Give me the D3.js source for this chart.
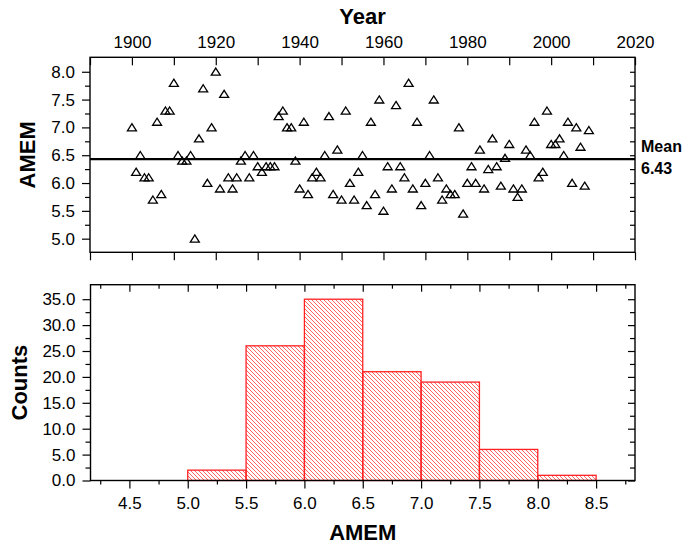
<!DOCTYPE html>
<html>
<head>
<meta charset="utf-8">
<script src="https://cdn.jsdelivr.net/npm/d3@7"></script>
<style>
body { margin: 0; background: #fff; }
svg text { font-family: "Liberation Sans", Arial, Helvetica, sans-serif; fill: #000; }
</style>
</head>
<body>
<div id="chart"></div>
<script>
// years 1900..2009, one AMEM value per year
var years = d3.range(1900, 2010);
var amem = [
    7.0, 6.2, 6.5, 6.1, 6.1, 5.7, 7.1, 5.8, 7.3, 7.3,
    7.8, 6.5, 6.4, 6.4, 6.5, 5.0, 6.8, 7.7, 6.0, 7.0,
    8.0, 5.9, 7.6, 6.1, 5.9, 6.1, 6.4, 6.5, 6.1, 6.5,
    6.3, 6.2, 6.3, 6.3, 6.3, 7.2, 7.3, 7.0, 7.0, 6.4,
    5.9, 7.1, 5.8, 6.1, 6.2, 6.1, 6.5, 7.2, 5.8, 6.6,
    5.7, 7.3, 6.0, 5.7, 6.2, 6.5, 5.6, 7.1, 5.8, 7.5,
    5.5, 6.3, 5.9, 7.4, 6.3, 6.1, 7.8, 5.9, 7.1, 5.6,
    6.0, 6.5, 7.5, 6.1, 5.7, 5.9, 5.8, 5.8, 7.0, 5.45,
    6.0, 6.3, 6.0, 6.6, 5.9, 6.25, 6.8, 6.3, 5.95, 6.45,
    6.7, 5.9, 5.75, 5.9, 6.6, 6.5, 7.1, 6.1, 6.2, 7.3,
    6.7, 6.7, 6.8, 6.5, 7.1, 6.0, 7.0, 6.65, 5.95, 6.95
];
var meanValue = 6.43;

// histogram
var binEdges = [5.0, 5.5, 6.0, 6.5, 7.0, 7.5, 8.0, 8.5];
var counts = [2, 26, 35, 21, 19, 6, 1];

var yearLabels = [1900, 1920, 1940, 1960, 1980, 2000, 2020];

var W = 684, H = 547;
var svg = d3.select("#chart").append("svg")
    .attr("width", W)
    .attr("height", H);

var defs = svg.append("defs");
defs.append("pattern")
    .attr("id", "hatch")
    .attr("patternUnits", "userSpaceOnUse")
    .attr("width", 4)
    .attr("height", 4)
    .append("path")
    .attr("d", "M0,0L4,4M3,-1L5,1M-1,3L1,5")
    .attr("stroke", "#f22")
    .attr("stroke-width", 0.7);

function styleAxis(g) {
    g.select(".domain").remove();
    g.selectAll(".tick line").attr("stroke", "#000").attr("stroke-width", 1.2);
    g.selectAll(".tick text").attr("font-size", 17);
}

// ---------- top panel ----------
var p1 = { left: 90, right: 635, top: 57.3, bottom: 252.3 };
var x1 = d3.scaleLinear().domain([1890, 2020]).range([p1.left, p1.right]);
var y1 = d3.scaleLinear().domain([4.755, 8.26]).range([p1.bottom, p1.top]);

var decades = d3.range(1890, 2021, 10);
var y1Major = d3.range(5.0, 8.01, 0.5);
var y1Minor = d3.range(5.25, 8.0, 0.5);

svg.append("g")
    .attr("transform", "translate(0," + p1.top + ")")
    .call(d3.axisTop(x1).tickValues(decades).tickSize(-8).tickPadding(9)
        .tickFormat(function (d) { return yearLabels.indexOf(d) >= 0 ? d : ""; }))
    .call(styleAxis);

svg.append("g")
    .attr("transform", "translate(0," + p1.bottom + ")")
    .call(d3.axisBottom(x1).tickValues(decades).tickSize(8).tickFormat(""))
    .call(styleAxis);

svg.append("g")
    .attr("transform", "translate(" + p1.left + ",0)")
    .call(d3.axisLeft(y1).tickValues(y1Major).tickSize(8).tickPadding(7).tickFormat(d3.format(".1f")))
    .call(styleAxis);
svg.append("g")
    .attr("transform", "translate(" + p1.left + ",0)")
    .call(d3.axisLeft(y1).tickValues(y1Minor).tickSize(5).tickFormat(""))
    .call(styleAxis);

svg.append("g")
    .attr("transform", "translate(" + p1.right + ",0)")
    .call(d3.axisRight(y1).tickValues(y1Major.concat(y1Minor)).tickSize(-5).tickFormat(""))
    .call(styleAxis);

svg.append("line")
    .attr("x1", p1.left).attr("x2", p1.right)
    .attr("y1", y1(meanValue)).attr("y2", y1(meanValue))
    .attr("stroke", "#000").attr("stroke-width", 2.2);

svg.append("g").selectAll("path")
    .data(amem)
    .join("path")
    .attr("transform", function (d, i) { return "translate(" + x1(years[i]) + "," + y1(d) + ")"; })
    .attr("d", "M0,-3.7L4.5,3.4L-4.5,3.4Z")
    .attr("fill", "none")
    .attr("stroke", "#000")
    .attr("stroke-width", 1.3);

svg.append("rect")
    .attr("x", p1.left).attr("y", p1.top)
    .attr("width", p1.right - p1.left).attr("height", p1.bottom - p1.top)
    .attr("fill", "none").attr("stroke", "#000").attr("stroke-width", 1.4);

svg.append("text")
    .attr("x", (p1.left + p1.right) / 2).attr("y", 24)
    .attr("text-anchor", "middle").attr("font-size", 22).attr("font-weight", "bold")
    .text("Year");

svg.append("text")
    .attr("transform", "translate(35," + (p1.top + p1.bottom) / 2 + ") rotate(-90)")
    .attr("text-anchor", "middle").attr("font-size", 22).attr("font-weight", "bold")
    .text("AMEM");

svg.append("text")
    .attr("x", 641).attr("y", 152)
    .attr("font-size", 16).attr("font-weight", "bold")
    .text("Mean");
svg.append("text")
    .attr("x", 641).attr("y", 174)
    .attr("font-size", 16).attr("font-weight", "bold")
    .text(meanValue.toFixed(2));

// ---------- bottom panel ----------
var p2 = { left: 90.5, right: 635, top: 284.7, bottom: 480.5 };
var x2 = d3.scaleLinear().domain([4.1667, 8.8333]).range([p2.left, p2.right]);
var y2 = d3.scaleLinear().domain([0, 37.8]).range([p2.bottom, p2.top]);

var x2Major = d3.range(4.5, 8.51, 0.5);
var x2Minor = d3.range(4.25, 8.8, 0.5);
var y2Major = d3.range(0, 35.1, 5);
var y2Minor = d3.range(2.5, 36, 5);

svg.append("g").selectAll("rect")
    .data(counts)
    .join("rect")
    .attr("x", function (d, i) { return x2(binEdges[i]); })
    .attr("width", function (d, i) { return x2(binEdges[i + 1]) - x2(binEdges[i]); })
    .attr("y", function (d) { return y2(d); })
    .attr("height", function (d) { return y2(0) - y2(d); })
    .attr("fill", "url(#hatch)")
    .attr("stroke", "#f22")
    .attr("stroke-width", 1.3);

svg.append("g")
    .attr("transform", "translate(0," + p2.bottom + ")")
    .call(d3.axisBottom(x2).tickValues(x2Major).tickSize(8).tickPadding(8).tickFormat(d3.format(".1f")))
    .call(styleAxis);
svg.append("g")
    .attr("transform", "translate(0," + p2.bottom + ")")
    .call(d3.axisBottom(x2).tickValues(x2Minor).tickSize(4).tickFormat(""))
    .call(styleAxis);

svg.append("g")
    .attr("transform", "translate(0," + p2.top + ")")
    .call(d3.axisTop(x2).tickValues(x2Major).tickSize(-7).tickFormat(""))
    .call(styleAxis);
svg.append("g")
    .attr("transform", "translate(0," + p2.top + ")")
    .call(d3.axisTop(x2).tickValues(x2Minor).tickSize(-4).tickFormat(""))
    .call(styleAxis);

svg.append("g")
    .attr("transform", "translate(" + p2.left + ",0)")
    .call(d3.axisLeft(y2).tickValues(y2Major).tickSize(8).tickPadding(7).tickFormat(d3.format(".1f")))
    .call(styleAxis);
svg.append("g")
    .attr("transform", "translate(" + p2.left + ",0)")
    .call(d3.axisLeft(y2).tickValues(y2Minor).tickSize(5).tickFormat(""))
    .call(styleAxis);

svg.append("g")
    .attr("transform", "translate(" + p2.right + ",0)")
    .call(d3.axisRight(y2).tickValues(y2Major).tickSize(-7).tickFormat(""))
    .call(styleAxis);
svg.append("g")
    .attr("transform", "translate(" + p2.right + ",0)")
    .call(d3.axisRight(y2).tickValues(y2Minor).tickSize(-5).tickFormat(""))
    .call(styleAxis);

svg.append("rect")
    .attr("x", p2.left).attr("y", p2.top)
    .attr("width", p2.right - p2.left).attr("height", p2.bottom - p2.top)
    .attr("fill", "none").attr("stroke", "#000").attr("stroke-width", 1.4);

svg.append("text")
    .attr("x", (p2.left + p2.right) / 2).attr("y", 540)
    .attr("text-anchor", "middle").attr("font-size", 22).attr("font-weight", "bold")
    .text("AMEM");

svg.append("text")
    .attr("transform", "translate(27," + (p2.top + p2.bottom) / 2 + ") rotate(-90)")
    .attr("text-anchor", "middle").attr("font-size", 22).attr("font-weight", "bold")
    .text("Counts");
</script>
</body>
</html>
